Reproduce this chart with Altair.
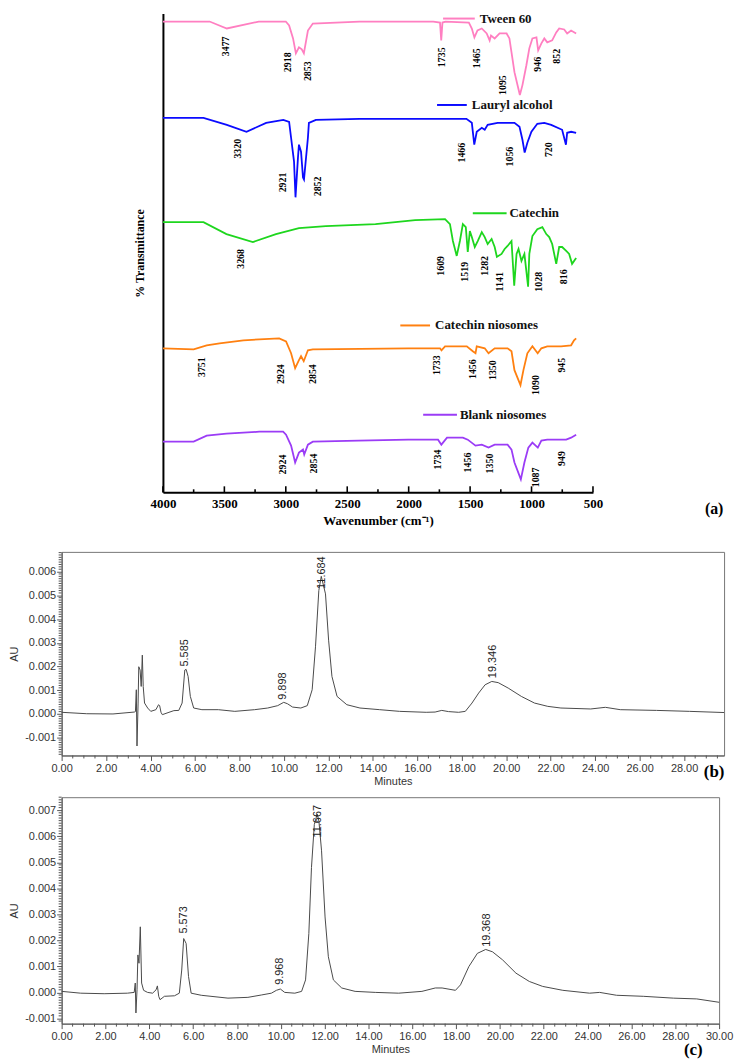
import altair as alt
import pandas as pd

SERIF = "Liberation Serif"
SANS = "Liberation Sans"

# ---------------- (a) FTIR spectra (offset, arbitrary transmittance units) ----------------
series_names = ["Tween 60", "Lauryl alcohol", "Catechin", "Catechin niosomes", "Blank niosomes"]
series_colors = ["#ff7fc1", "#0b0bff", "#1ed61e", "#ff8010", "#9b3cf6"]

tween_w = [4000, 3620, 3480, 3220, 3000, 2973, 2941, 2918, 2893, 2870, 2853, 2820, 2780, 2400, 1800,
           1745, 1735, 1725, 1700, 1510, 1486, 1465, 1440, 1405, 1365, 1341, 1330, 1300, 1260, 1203,
           1180, 1163, 1139, 1095, 1074, 1042, 1018, 993, 960, 946, 920, 896, 872, 832, 799,
           775, 734, 710, 678, 637]
tween_v = [474, 474, 467, 474, 474, 470, 457, 442, 448, 446, 442, 465, 472, 474, 474,
           473, 455, 473, 474, 473, 467, 458, 465, 467, 462, 455, 460, 457, 462, 462,
           457, 443, 423, 400, 410, 430, 447, 457, 458, 445, 452, 457, 453, 455, 463,
           467, 466, 462, 465, 462]

lauryl_w = [4000, 3670, 3480, 3320, 3160, 3020, 2973, 2957, 2933, 2921, 2901, 2893, 2876, 2860, 2852,
            2820, 2812, 2755, 2400, 1800, 1530, 1486, 1466, 1446, 1405, 1381, 1357, 1276, 1139, 1098,
            1074, 1056, 1034, 1001, 953, 896, 840, 751, 720, 710, 678, 637]
lauryl_v = [377, 377, 370, 363, 372, 375, 373, 357, 333, 297, 337, 350, 343, 317, 315,
            357, 372, 375, 376, 376, 376, 372, 350, 363, 367, 365, 370, 372, 372, 368,
            355, 342, 352, 363, 371, 372, 370, 365, 350, 362, 363, 362]

catechin_w = [4000, 3670, 3483, 3268, 3080, 2893, 2674, 2270, 1947, 1704, 1664, 1640, 1609, 1583, 1559,
              1535, 1519, 1502, 1486, 1462, 1438, 1405, 1381, 1357, 1325, 1300, 1282, 1244, 1219, 1195,
              1163, 1141, 1122, 1106, 1082, 1058, 1028, 1018, 993, 953, 912, 880, 856, 832, 799,
              775, 751, 718, 694, 670, 637]
catechin_v = [272, 272, 260, 252, 260, 266, 268, 270, 274, 275, 270, 253, 238, 253, 270,
              267, 242, 263, 257, 247, 253, 262, 257, 250, 255, 247, 237, 240, 245, 248,
              253, 208, 240, 245, 233, 240, 207, 240, 258, 265, 267, 260, 257, 250, 230,
              247, 247, 243, 240, 230, 236]

catnio_w = [4000, 3750, 3644, 3539, 3345, 3216, 3054, 2998, 2957, 2924, 2893, 2876, 2854, 2820, 2780,
            2004, 1745, 1733, 1704, 1527, 1478, 1456, 1446, 1381, 1350, 1300, 1195, 1163, 1139, 1090,
            1066, 1034, 993, 950, 920, 872, 759, 678, 654, 637]
catnio_v = [145, 144, 148, 150, 153, 154, 155, 152, 140, 125, 133, 137, 132, 143, 144,
            145, 145, 143, 147, 147, 142, 140, 147, 145, 140, 145, 145, 142, 123, 108,
            123, 140, 147, 140, 145, 147, 147, 148, 153, 155]

blank_w = [4000, 3750, 3644, 3483, 3216, 3022, 2998, 2957, 2924, 2893, 2860, 2850, 2820, 2780, 2408,
           2004, 1761, 1734, 1688, 1559, 1519, 1456, 1405, 1350, 1300, 1195, 1163, 1139, 1087, 1058,
           1026, 993, 949, 920, 872, 718, 678, 637]
blank_v = [51, 51, 57, 59, 61, 61, 58, 47, 30, 40, 43, 38, 48, 51, 52,
           53, 53, 48, 55, 55, 53, 47, 48, 45, 48, 48, 43, 30, 13, 30,
           45, 50, 45, 52, 53, 53, 55, 58]

# in-plot series labels (short line + name)
legend_w1 = [1720, 1769, 1478, 2068, 1882]
legend_w2 = [1462, 1527, 1203, 1826, 1607]
legend_wt = [1421, 1486, 1179, 1785, 1583]
legend_v = [477, 390, 281, 168, 78]

# band annotations
band_text = ["3477", "2918", "2853", "1735", "1465", "1095", "946", "852",
             "3320", "2921", "2852", "1466", "1056", "720",
             "3268", "1609", "1519", "1282", "1141", "1028", "816",
             "3751", "2924", "2854", "1733", "1456", "1350", "1090", "945",
             "2924", "2854", "1734", "1456", "1350", "1087", "949"]
band_w = [3483, 2982, 2820, 1729, 1446, 1236, 945, 791,
          3386, 3022, 2739, 1567, 1179, 856,
          3361, 1737, 1543, 1381, 1260, 937, 734,
          3685, 3038, 2779, 1769, 1478, 1316, 961, 751,
          3022, 2771, 1761, 1519, 1341, 961, 751]
band_v = [449, 433, 424, 438, 437, 410, 431, 439,
          346, 312, 308, 342, 338, 345,
          235, 228, 222, 228, 212, 212, 217,
          126, 119, 119, 128, 124, 123, 108, 128,
          28, 29, 33, 30, 29, 15, 34]

wn_major = [4000, 3500, 3000, 2500, 2000, 1500, 1000, 500]
wn_minor = [3750, 3250, 2750, 2250, 1750, 1250, 750]

# ---------------- (b) and (c) HPLC chromatograms ----------------
b_time = [0, 1.13, 2.31, 3.27, 3.32, 3.36, 3.39, 3.44, 3.47, 3.53, 3.58, 3.63, 3.67, 3.73, 3.87,
          4.01, 4.24, 4.36, 4.41, 4.47, 4.53, 4.83, 5.05, 5.27, 5.42, 5.54, 5.6, 5.69, 5.79, 5.94,
          6.31, 7.05, 7.79, 8.68, 9.27, 9.72, 9.99, 10.16, 10.39, 10.76, 11.05, 11.27, 11.42, 11.57, 11.68,
          11.87, 12.01, 12.16, 12.39, 12.83, 13.42, 14.31, 15.2, 16.4, 16.8, 17.1, 17.4, 17.86, 18.16, 18.46,
          18.76, 19.05, 19.35, 19.64, 20.09, 20.68, 21.27, 21.87, 22.46, 23.8, 24.46, 25.13, 26.76, 28.24, 29.8]
b_au = [0.00007, 0.00001, 0.0, 0.00008, 0.0001, 0.00102, -0.00135, 0.00046, 0.00199, 0.00185, 0.00116, 0.00248, 0.00116, 0.00046, 0.00025,
        0.00011, 0.00018, 0.00039, 0.00035, 0.00007, -0.00003, 0.00007, 0.00014, 0.00015, 0.00046, 0.00185, 0.00188, 0.00158, 0.00074, 0.00025,
        0.00018, 0.00018, 0.00011, 0.00018, 0.00025, 0.00035, 0.00049, 0.00043, 0.00029, 0.00025, 0.00035, 0.00102, 0.00283, 0.0052, 0.0058,
        0.00506, 0.00311, 0.00158, 0.00074, 0.00039, 0.00025, 0.00018, 0.00011, 0.00007, 0.00008, 0.00015, 0.0001, 0.00007, 0.00011, 0.00046,
        0.00088, 0.00123, 0.00137, 0.00132, 0.00109, 0.00074, 0.00046, 0.00032, 0.00025, 0.00021, 0.00028, 0.00018, 0.00015, 0.00011, 0.00006]
b_peak_text = ["5.585", "9.898", "11.684", "19.346"]
b_peak_t = [5.57, 9.94, 11.72, 19.42]
b_peak_au = [0.0020, 0.0006, 0.00527, 0.00151]

c_time = [0, 0.87, 1.94, 3.0, 3.31, 3.36, 3.39, 3.44, 3.48, 3.53, 3.59, 3.65, 3.74, 3.92, 4.15,
          4.31, 4.37, 4.43, 4.49, 4.69, 5.15, 5.37, 5.48, 5.57, 5.68, 5.79, 5.91, 6.37, 7.59, 8.5,
          9.11, 9.57, 9.8, 9.98, 10.18, 10.64, 10.95, 11.13, 11.28, 11.4, 11.53, 11.66, 11.74, 11.86, 12.02,
          12.17, 12.4, 12.78, 13.39, 14.31, 15.38, 16.44, 17.05, 17.36, 17.97, 18.2, 18.58, 18.97, 19.35, 19.66,
          20.12, 20.73, 21.34, 21.95, 22.87, 24.09, 24.55, 25.32, 26.54, 27.91, 28.98, 30.0]
c_au = [0.00004, -0.00003, -0.00005, -0.00003, 0.0, 0.00036, -0.00079, 0.0001, 0.00144, 0.00112, 0.00252, 0.00036, 0.00008, 0.0, -0.00003,
        0.0001, 0.00025, -0.00015, -0.00028, -0.00015, -0.00013, -0.00003, 0.00086, 0.00207, 0.00188, 0.00061, -0.00003, -0.00011, -0.00022, -0.00019,
        -0.0001, -0.00003, 0.00008, 0.00013, 0.0, -0.00003, 0.00004, 0.00048, 0.00226, 0.0048, 0.00645, 0.00685, 0.00658, 0.00544, 0.0029,
        0.00137, 0.00048, 0.00017, 0.00004, 0.0, -0.00003, 0.00004, 0.00017, 0.00017, 0.00008, 0.00029, 0.00099, 0.0015, 0.00165, 0.00156,
        0.00125, 0.00074, 0.00042, 0.00023, 0.00008, -0.00003, 0.0, -0.00011, -0.00015, -0.00022, -0.00025, -0.00038]
c_peak_text = ["5.573", "9.968", "11.667", "19.368"]
c_peak_t = [5.6, 9.95, 11.68, 19.42]
c_peak_au = [0.00226, 0.00029, 0.00595, 0.00175]

# ================= build (a) =================
frames = []
for name, ws, vs in zip(series_names,
                        [tween_w, lauryl_w, catechin_w, catnio_w, blank_w],
                        [tween_v, lauryl_v, catechin_v, catnio_v, blank_v]):
    frames.append(pd.DataFrame({"w": ws, "v": vs, "series": name}))
ftir_df = pd.concat(frames, ignore_index=True)
legend_df = pd.DataFrame({"series": series_names, "w": legend_w1, "w2": legend_w2, "v": legend_v})
legend_txt_df = pd.DataFrame({"series": series_names, "w": legend_wt, "v": legend_v})
band_df = pd.DataFrame({"lab": band_text, "w": band_w, "v": band_v})
major_df = pd.DataFrame({"w": wn_major})
minor_df = pd.DataFrame({"w": wn_minor})
one = pd.DataFrame({"k": [0]})

A_W, A_H = 433, 482
ftir_xscale = alt.Scale(domain=[4000, 500], nice=False, zero=False)
ftir_yscale = alt.Scale(domain=[0, 482], nice=False, zero=False)
ftir_xaxis = alt.Axis(values=wn_major, format="d", title="Wavenumber (cm⁻¹)", ticks=False, grid=False,
                      domainColor="black", domainWidth=2, labelFont=SERIF, labelFontSize=13,
                      labelFontWeight="bold", labelColor="black", labelPadding=5, labelFlush=False,
                      labelOverlap=False, titleFont=SERIF, titleFontSize=13, titleFontWeight="bold",
                      titleColor="black", titlePadding=4)
ftir_yaxis = alt.Axis(title="% Transmittance", labels=False, ticks=False, grid=False,
                      domainColor="black", domainWidth=2, titleFont=SERIF, titleFontSize=12,
                      titleFontWeight="bold", titleColor="black", titlePadding=17)
FX = alt.X("w:Q", scale=ftir_xscale, axis=ftir_xaxis)
FY = alt.Y("v:Q", scale=ftir_yscale, axis=ftir_yaxis)
FC = alt.Color("series:N", scale=alt.Scale(domain=series_names, range=series_colors), legend=None)

traces = alt.Chart(ftir_df).mark_line(strokeWidth=1.8).encode(x=FX, y=FY, color=FC, detail="series:N")
leg_lines = alt.Chart(legend_df).mark_rule(strokeWidth=2).encode(x=FX, x2="w2:Q", y=FY, color=FC)
leg_text = alt.Chart(legend_txt_df).mark_text(align="left", baseline="middle", font=SERIF, fontSize=13,
                                              fontWeight="bold", color="#111").encode(x=FX, y=FY, text="series:N")
bands = alt.Chart(band_df).mark_text(angle=270, align="center", baseline="middle", font=SERIF, fontSize=10,
                                     fontWeight="bold", color="black").encode(x=FX, y=FY, text="lab:N")
maj_ticks = alt.Chart(major_df).mark_rule(color="black", strokeWidth=1.6).encode(
    x=FX, y=alt.value(A_H), y2=alt.value(A_H - 6))
min_ticks = alt.Chart(minor_df).mark_rule(color="black", strokeWidth=1.6).encode(
    x=FX, y=alt.value(A_H), y2=alt.value(A_H - 3))
a_letter = alt.Chart(one).mark_text(text="(a)", font=SERIF, fontSize=16, fontWeight="bold",
                                    align="center", baseline="middle", color="black").encode(
    x=alt.value(555), y=alt.value(499))

ftir = alt.layer(traces, leg_lines, leg_text, bands, maj_ticks, min_ticks, a_letter).properties(
    width=A_W, height=A_H, view=alt.ViewBackground(stroke="transparent"))

spacer = alt.Chart(one).mark_point(opacity=0, size=1).encode(x=alt.value(0), y=alt.value(0)).properties(
    width=70, height=10, view=alt.ViewBackground(stroke="transparent"))


# ================= build (b), (c) =================
def chromatogram(times, aus, ptxt, pt, pau, xmax, xlabels_max, ydom, ymax_lab, W, H, letter, lx, ly):
    df = pd.DataFrame({"t": times, "a": aus})
    pk = pd.DataFrame({"lab": ptxt, "t": pt, "a": pau})
    xs = alt.Scale(domain=[0, xmax], nice=False, zero=False)
    ys = alt.Scale(domain=ydom, nice=False, zero=False)
    xmajor = [float(2 * i) for i in range(int(xlabels_max / 2) + 1)]
    xminor = [i * 0.5 for i in range(int(xmax / 0.5) + 1) if (i * 0.5) % 2 != 0]
    ymajor = [round(k * 0.001, 3) for k in range(-1, ymax_lab + 1)]
    kmin = int(round(ydom[0] * 10000)) + 1
    kmax = int(round(ydom[1] * 10000))
    yminor = [round(k * 0.0001, 4) for k in range(kmin, kmax + 1) if k % 10 != 0]
    xaxis = alt.Axis(values=xmajor, format=".2f", title="Minutes", grid=False, tickSize=5, tickColor="#555",
                     domainColor="#555", labelFont=SANS, labelFontSize=11, labelColor="#333",
                     labelPadding=2, labelFlush=False, labelOverlap=False, titleFont=SANS, titleFontSize=11,
                     titleFontWeight="normal", titleColor="#333", titlePadding=2)
    yaxis = alt.Axis(values=ymajor, title="AU", grid=False, tickSize=5, tickColor="#555",
                     labelExpr="replace(format(datum.value, '.3f'), '\u2212', '-')",
                     domainColor="#555", labelFont=SANS, labelFontSize=11, labelColor="#333",
                     labelPadding=1, labelFlush=False, labelOverlap=False, titleFont=SANS, titleFontSize=11,
                     titleFontWeight="normal", titleColor="#333", titlePadding=5)
    X = alt.X("t:Q", scale=xs, axis=xaxis)
    Y = alt.Y("a:Q", scale=ys, axis=yaxis)
    line = alt.Chart(df).mark_line(color="#4a4a4a", strokeWidth=1).encode(x=X, y=Y)
    labels = alt.Chart(pk).mark_text(angle=270, align="left", baseline="middle", font=SANS, fontSize=11,
                                     color="#222").encode(x=X, y=Y, text="lab:N")
    xm = alt.Chart(pd.DataFrame({"t": xminor})).mark_rule(color="#555", strokeWidth=1).encode(
        x=X, y=alt.value(H), y2=alt.value(H + 3))
    ym = alt.Chart(pd.DataFrame({"a": yminor})).mark_rule(color="#555", strokeWidth=1).encode(
        y=Y, x=alt.value(0), x2=alt.value(-3))
    let = alt.Chart(one).mark_text(text=letter, font=SERIF, fontSize=17, fontWeight="bold",
                                   align="center", baseline="middle", color="black").encode(
        x=alt.value(lx), y=alt.value(ly))
    return alt.layer(line, labels, xm, ym, let).properties(
        width=W, height=H, view=alt.ViewBackground(stroke="#777", strokeWidth=1))


chart_b = chromatogram(b_time, b_au, b_peak_text, b_peak_t, b_peak_au, 29.8, 28, [-0.00175, 0.00683], 6,
                       667, 205, "(b)", 657, 222)
chart_c = chromatogram(c_time, c_au, c_peak_text, c_peak_t, c_peak_au, 30.0, 30, [-0.0012, 0.0075], 7,
                       662, 228, "(c)", 636, 255)

top = alt.hconcat(spacer, ftir, spacing=0)
bottom = alt.vconcat(chart_b, chart_c, spacing=9)
chart = alt.vconcat(top, bottom, spacing=23).properties(
    padding={"left": 0, "top": 0, "right": 0, "bottom": 0}
).configure(background="white")

chart.save("out.html", embed_options={"renderer": "svg", "actions": False})
